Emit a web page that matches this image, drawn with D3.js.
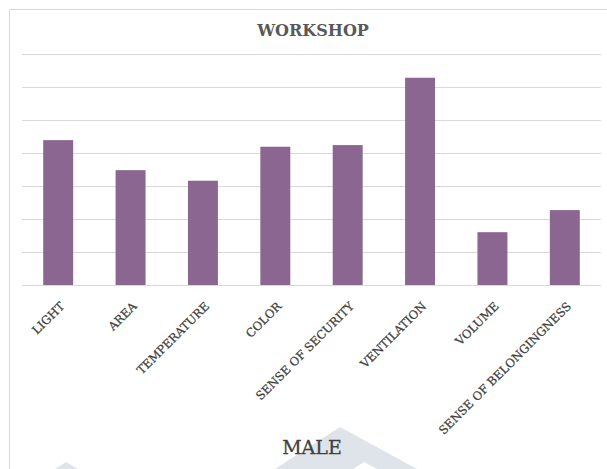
<!DOCTYPE html>
<html>
<head>
<meta charset="utf-8">
<script src="https://cdn.jsdelivr.net/npm/d3@7"></script>
<style>
  html, body { margin: 0; padding: 0; background: #fff; }
  svg { display: block; }
</style>
</head>
<body>
<svg id="chart" width="607" height="469"></svg>
<script>
// Workshop ratings by category (male respondents)
const categories = ["LIGHT", "AREA", "TEMPERATURE", "COLOR", "SENSE OF SECURITY",
                    "VENTILATION", "VOLUME", "SENSE OF BELONGINGNESS"];
const values = [4.39, 3.48, 3.16, 4.19, 4.24, 6.28, 1.6, 2.27];
const gridTicks = [0, 1, 2, 3, 4, 5, 6, 7];
const chartTitle = "WORKSHOP";
const groupLabel = "MALE";

const W = 607, H = 469;
const svg = d3.select("#chart");
const font = "'DejaVu Serif', serif";

// faint background emblem
const emblem = svg.append("g").attr("fill", "#dfe4ea");
emblem.append("path").attr("d", "M275,469 L340,427 L417,469 L377,469 L364,462 L353,469 Z");
emblem.append("path").attr("d", "M55,469 L66,462 L78,469 Z");

// chart frame (left and top edges)
svg.append("path")
  .attr("d", "M9.5,469 L9.5,9.5 L607,9.5")
  .attr("fill", "none").attr("stroke", "#d9d9d9").attr("stroke-width", 1);

const x = d3.scaleBand()
  .domain(categories)
  .range([22, 601])
  .paddingInner(0.586)
  .paddingOuter(0.293);

const y = d3.scaleLinear().domain([0, 7]).range([285, 54]);

// horizontal gridlines
const yGrid = d3.axisLeft(y).tickValues(gridTicks).tickSize(-(601 - 22)).tickFormat("");
svg.append("g")
  .attr("transform", "translate(22,0)")
  .call(yGrid)
  .call(g => g.select(".domain").remove())
  .call(g => g.selectAll(".tick line").attr("stroke", "#d9d9d9").attr("stroke-width", 1)
    .attr("shape-rendering", "crispEdges"));

// bars
svg.append("g").selectAll("rect")
  .data(values)
  .join("rect")
  .attr("x", (d, i) => x(categories[i]))
  .attr("y", d => y(d))
  .attr("width", x.bandwidth())
  .attr("height", d => y(0) - y(d))
  .attr("fill", "#8b6690");

// category axis with rotated labels
const xAxis = d3.axisBottom(x).tickSize(0).tickPadding(0);
svg.append("g")
  .attr("transform", `translate(0,${y(0)})`)
  .call(xAxis)
  .call(g => g.select(".domain").remove())
  .call(g => g.selectAll(".tick text")
    .attr("font-family", font)
    .attr("font-size", 11.7)
    .attr("fill", "#404040")
    .attr("stroke", "#404040")
    .attr("stroke-width", 0.25)
    .attr("text-anchor", "end")
    .attr("dy", 0)
    .attr("y", 0)
    .attr("transform", "translate(7,22) rotate(-45)"));

// title
svg.append("text")
  .attr("x", 313).attr("y", 36)
  .attr("text-anchor", "middle")
  .attr("font-family", font)
  .attr("font-weight", "bold")
  .attr("font-size", 16)
  .attr("fill", "#595959")
  .text(chartTitle);

// group caption
svg.append("text")
  .attr("x", 312).attr("y", 454)
  .attr("text-anchor", "middle")
  .attr("font-family", font)
  .attr("font-size", 19)
  .attr("fill", "#404040")
  .attr("stroke", "#404040")
  .attr("stroke-width", 0.3)
  .text(groupLabel);
</script>
</body>
</html>
